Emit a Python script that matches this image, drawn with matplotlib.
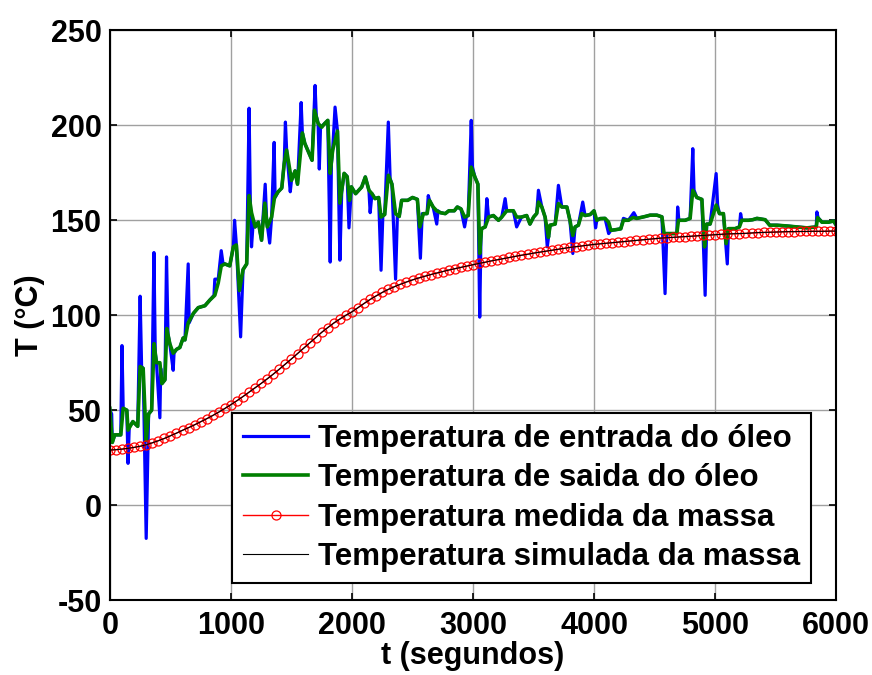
import numpy as np
import matplotlib
matplotlib.use('Agg')
import matplotlib.pyplot as plt

plt.rcParams['font.family'] = ['Liberation Sans', 'DejaVu Sans']
plt.rcParams['font.weight'] = 'bold'
plt.rcParams['axes.unicode_minus'] = False

# temperatura de saida do oleo (verde): (t [s], T [C])
saida_pts = [
    (0, 51), (20, 33), (40, 37), (90, 37), (110, 51), (140, 50), (150, 39.5), (190, 44),
    (230, 41.5), (250, 73), (275, 72), (300, 34), (320, 48), (345, 50), (365, 85), (385, 75),
    (413, 75), (430, 64), (455, 66), (470, 93), (495, 85), (523, 80), (550, 82), (578, 83),
    (605, 88), (620, 87), (647, 96), (690, 101), (730, 104), (785, 105), (826, 108),
    (867, 110.5), (895, 117), (920, 126), (950, 127), (990, 126), (1020, 136), (1045, 137),
    (1070, 113), (1100, 124), (1130, 127), (1150, 163), (1170, 154), (1200, 146.5),
    (1226, 149), (1253, 139.5), (1280, 159), (1300, 146.5), (1336, 151.7), (1360, 162),
    (1390, 165), (1420, 167), (1440, 180), (1460, 187), (1500, 171), (1530, 176),
    (1550, 169), (1590, 196), (1610, 190.5), (1640, 186), (1670, 181.6), (1690, 208),
    (1720, 201), (1750, 199), (1775, 201), (1800, 202.6), (1820, 174.7), (1840, 186.8),
    (1880, 197), (1900, 159), (1935, 174.7), (1960, 173), (1980, 160.5), (1995, 167.6),
    (2030, 164), (2080, 167.5), (2110, 172.8), (2140, 165.8), (2165, 164), (2190, 161.4),
    (2220, 162), (2240, 151.7), (2270, 153), (2300, 173.7), (2330, 169), (2360, 153.5),
    (2390, 152), (2410, 160.5), (2460, 160.5), (2500, 162), (2540, 161), (2560, 146.5),
    (2590, 153.5), (2620, 153.5), (2640, 160.5), (2670, 157), (2700, 155), (2730, 154),
    (2770, 153.5), (2800, 155), (2845, 155), (2870, 157), (2900, 156), (2930, 151.7),
    (2960, 152.5), (2985, 178), (3015, 172.8), (3040, 169), (3055, 132.5), (3070, 145.6),
    (3100, 146.5), (3128, 151.7), (3168, 152.5), (3210, 150), (3237, 151.7), (3278, 155),
    (3333, 155), (3360, 151.7), (3400, 151.7), (3443, 152.5), (3470, 148), (3500, 151.7),
    (3526, 153.6), (3540, 159.6), (3568, 157), (3595, 151.7), (3623, 141), (3636, 147.4),
    (3678, 148), (3705, 158.8), (3733, 157), (3775, 157), (3800, 150), (3824, 142),
    (3843, 146.5), (3870, 147.4), (3898, 153.5), (3925, 152.5), (3967, 153), (3999, 155),
    (4022, 150), (4050, 150.9), (4090, 151), (4120, 149), (4138, 144.7), (4174, 145),
    (4220, 145.5), (4242, 150), (4283, 150), (4320, 151.4), (4353, 151), (4422, 152),
    (4463, 152.7), (4518, 152.7), (4560, 151.8), (4578, 143), (4640, 143), (4683, 143),
    (4697, 150), (4752, 150), (4793, 151), (4815, 165.8), (4848, 162), (4890, 161),
    (4912, 136), (4930, 148), (4958, 148), (5008, 158), (5035, 153.5), (5068, 153.5),
    (5090, 137.7), (5110, 145.6), (5165, 145.6), (5200, 146.5), (5220, 150), (5275, 150),
    (5310, 150.3), (5345, 151), (5413, 150.3), (5450, 147.4), (5510, 147.4), (5592, 147),
    (5675, 146.5), (5758, 146), (5835, 146.5), (5846, 151.4), (5882, 149), (5937, 149),
    (5978, 149.6), (6000, 147.4),
]

# temperatura de entrada do oleo (azul), com os picos
entrada_pts = [
    (0, 50), (15, 48), (20, 33), (40, 37), (90, 37), (100, 84), (110, 51), (140, 50),
    (150, 22), (160, 41), (190, 44), (230, 41.5), (250, 110), (262, 73), (275, 72),
    (300, -17.5), (320, 48), (345, 50), (364, 133), (375, 80), (385, 75), (413, 46),
    (420, 72), (430, 64), (455, 66), (468, 130.7), (480, 90), (495, 85), (523, 71),
    (530, 80), (550, 82), (578, 83), (605, 88), (620, 87), (647, 127), (655, 96),
    (690, 101), (730, 104), (785, 105), (826, 108), (860, 110.5), (867, 119), (895, 119),
    (920, 134), (935, 127), (950, 127), (990, 126), (1020, 136), (1030, 150), (1045, 137),
    (1080, 88.6), (1100, 124), (1130, 127), (1150, 209), (1160, 160), (1170, 136),
    (1185, 150), (1200, 146.5), (1226, 149), (1253, 139.5), (1283, 169), (1295, 150),
    (1320, 138), (1336, 151.7), (1357, 191), (1365, 162), (1390, 165), (1420, 167),
    (1440, 180), (1450, 201.7), (1460, 187), (1490, 165), (1500, 171), (1530, 176),
    (1550, 169), (1580, 212), (1590, 196), (1610, 190.5), (1640, 186), (1670, 181.6),
    (1695, 221), (1705, 205), (1720, 201), (1730, 177), (1740, 199), (1775, 201),
    (1800, 202.6), (1820, 128), (1830, 180), (1840, 186.8), (1860, 209.6), (1880, 197),
    (1900, 129), (1915, 165), (1935, 174.7), (1960, 173), (1975, 146), (1995, 167.6),
    (2030, 164), (2080, 167.5), (2110, 172.8), (2140, 165.8), (2150, 154), (2165, 164),
    (2190, 161.4), (2220, 162), (2240, 123.7), (2255, 153), (2270, 153), (2300, 201.7),
    (2315, 172), (2330, 169), (2360, 119), (2375, 153), (2390, 152), (2410, 160.5),
    (2460, 160.5), (2500, 162), (2540, 161), (2565, 130), (2580, 153.5), (2620, 153.5),
    (2630, 163), (2640, 160.5), (2670, 157), (2700, 148), (2710, 155), (2730, 154),
    (2770, 153.5), (2800, 155), (2845, 155), (2870, 157), (2900, 156), (2930, 146.5),
    (2945, 152), (2960, 152.5), (2985, 202.6), (2995, 178), (3015, 172.8), (3040, 169),
    (3055, 99), (3065, 140), (3070, 145.6), (3100, 146.5), (3114, 161.4), (3128, 151.7),
    (3168, 152.5), (3210, 150), (3237, 151.7), (3265, 161.4), (3278, 155), (3333, 155),
    (3360, 146.5), (3400, 151.7), (3443, 152.5), (3470, 148), (3500, 151.7), (3526, 153.6),
    (3540, 165.8), (3568, 157), (3595, 151.7), (3613, 136), (3636, 147.4), (3678, 148),
    (3705, 168.4), (3733, 157), (3775, 157), (3800, 150), (3824, 132.5), (3843, 146.5),
    (3870, 147.4), (3906, 159.6), (3925, 152.5), (3967, 153), (3999, 155), (4012, 146),
    (4022, 150), (4050, 150.9), (4090, 151), (4120, 143), (4138, 144.7), (4174, 145),
    (4220, 145.5), (4242, 151), (4283, 150), (4328, 154), (4353, 151), (4422, 152),
    (4463, 152.7), (4518, 152.7), (4560, 151.8), (4586, 111.4), (4600, 143), (4640, 143),
    (4683, 143), (4690, 157), (4700, 150), (4752, 150), (4793, 151), (4815, 187.7),
    (4825, 166), (4848, 162), (4890, 161), (4917, 110.5), (4930, 148), (4958, 148),
    (5008, 174.6), (5020, 158), (5035, 153.5), (5068, 153.5), (5100, 127), (5110, 145.6),
    (5165, 145.6), (5200, 146.5), (5210, 153.5), (5220, 150), (5275, 150), (5310, 150.3),
    (5345, 151), (5413, 150.3), (5450, 147.4), (5510, 147.4), (5592, 147), (5675, 146.5),
    (5758, 146), (5835, 146.5), (5840, 154.4), (5850, 151.4), (5882, 149), (5937, 149),
    (5978, 149.6), (6000, 147.4),
]

# temperatura da massa, amostrada a cada 50 s
massa_t = np.arange(0, 6001, 50)
massa_medida = [
    29.0, 29.2, 29.5, 29.9, 30.4, 31.0, 31.8, 32.8, 33.9, 35.1,
    36.5, 37.9, 39.4, 40.8, 42.3, 43.9, 45.5, 47.2, 49.0, 50.9,
    52.9, 55.0, 57.2, 59.5, 61.8, 64.1, 66.5, 69.0, 71.6, 74.3,
    77.0, 79.8, 82.6, 85.4, 88.2, 91.0, 93.5, 95.9, 98.0, 100.0,
    101.8, 104.0, 106.2, 108.3, 110.2, 112.0, 113.6, 115.0, 116.3, 117.5,
    118.6, 119.6, 120.5, 121.4, 122.2, 123.0, 123.8, 124.5, 125.2, 125.9,
    126.6, 127.3, 127.9, 128.6, 129.2, 129.8, 130.4, 131.0, 131.6, 132.1,
    132.7, 133.2, 133.7, 134.2, 134.7, 135.2, 135.7, 136.1, 136.5, 136.9,
    137.3, 137.6, 137.9, 138.2, 138.5, 138.8, 139.1, 139.4, 139.7, 140.0,
    140.3, 140.6, 140.8, 141.0, 141.2, 141.4, 141.6, 141.8, 142.0, 142.2,
    142.4, 142.6, 142.8, 142.9, 143.0, 143.1, 143.3, 143.5, 143.6, 143.7,
    143.8, 143.9, 144.0, 144.0, 144.1, 144.1, 144.2, 144.2, 144.2, 144.3,
    144.3,
]
massa_simulada = massa_medida  # sobreposta a medida

legendas = ['Temperatura de entrada do óleo', 'Temperatura de saida do óleo',
            'Temperatura medida da massa', 'Temperatura simulada da massa']

ent = np.array(entrada_pts).T
sai = np.array(saida_pts).T

fig = plt.figure(figsize=(8.72, 6.75), dpi=100)
ax = fig.add_axes([0.126, 0.111, 0.833, 0.844])

ax.plot(ent[0], ent[1], color='#0000ff', lw=2.3, label=legendas[0])
ax.plot(sai[0], sai[1], color='#007f00', lw=2.6, label=legendas[1])
ax.plot(massa_t, massa_medida, color='red', lw=1.0, marker='o', ms=6.5,
        mfc='none', mec='red', mew=0.9, label=legendas[2])
ax.plot(massa_t, massa_simulada, color='black', lw=0.8, label=legendas[3])

ax.set_xlim(0, 6000)
ax.set_ylim(-50, 250)
ax.set_xticks(np.arange(0, 6001, 1000))
ax.set_yticks(np.arange(-50, 251, 50))
ax.grid(True, color='#a0a0a0', lw=1.0)
ax.set_axisbelow(True)
ax.tick_params(direction='in', length=5, width=1.2, top=True, right=True,
               labelsize=22)
ax.tick_params(axis='x', pad=8)
ax.tick_params(axis='y', pad=6)
for lab in ax.get_xticklabels() + ax.get_yticklabels():
    lab.set_fontweight('bold')
for s in ax.spines.values():
    s.set_linewidth(1.5)

ax.set_xlabel('t (segundos)', fontsize=22, fontweight='bold', labelpad=0)
ax.set_ylabel('T (°C)', fontsize=22, fontweight='bold', labelpad=4)

leg = ax.legend(loc='lower right', bbox_to_anchor=(0.965, 0.03), fontsize=22.5,
                fancybox=False, framealpha=1, edgecolor='black',
                handlelength=2.1, handletextpad=0.3, borderpad=0.35,
                labelspacing=0.3, borderaxespad=0)
leg.get_frame().set_linewidth(1.5)
for t in leg.get_texts():
    t.set_fontweight('bold')

fig.savefig('out.png', dpi=100)
